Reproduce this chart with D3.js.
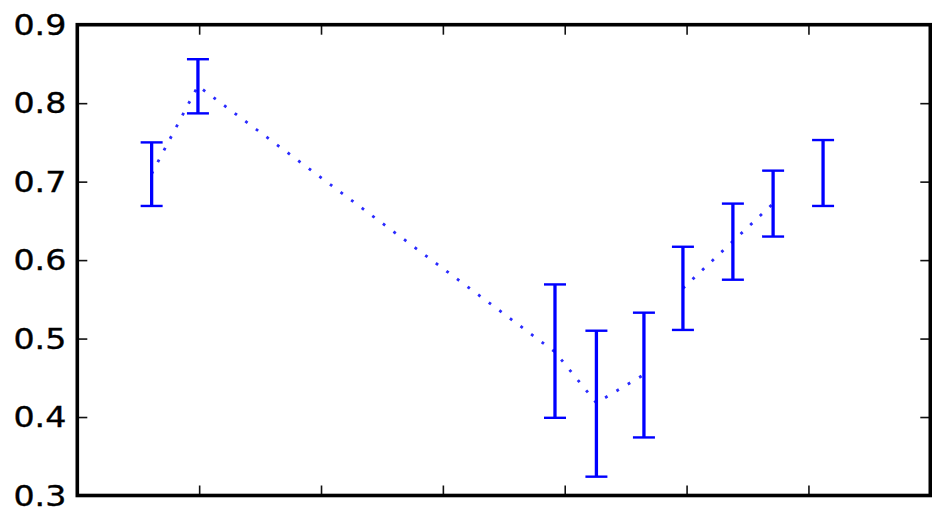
<!DOCTYPE html>
<html>
<head>
<meta charset="utf-8">
<script src="https://cdn.jsdelivr.net/npm/d3@7"></script>
<style>
  html, body { margin: 0; padding: 0; background: #fff; }
  svg { display: block; }
</style>
</head>
<body>
<div id="chart"></div>
<script>
// Measurement positions along the x axis
const xPos  = [0.61, 0.99, 3.92, 4.26, 4.65, 4.97, 5.38, 5.71, 6.12];
// Central estimate and interval bounds for each measurement
const means = [0.710, 0.822, 0.483, 0.418, 0.454, 0.564, 0.624, 0.672, 0.711];
const upper = [0.750, 0.856, 0.569, 0.510, 0.533, 0.617, 0.672, 0.714, 0.753];
const lower = [0.669, 0.787, 0.399, 0.324, 0.374, 0.511, 0.575, 0.630, 0.669];
// Points sharing a run id are joined by the dotted trend line
const runId = [0, 0, 0, 0, 0, 1, 1, 1, 2];
// Axis ticks
const yTicks = [0.3, 0.4, 0.5, 0.6, 0.7, 0.8, 0.9];
const xTicks = [1, 2, 3, 4, 5, 6];

const W = 932, H = 510;
const plotL = 77.3, plotR = 930.3, plotT = 24.7, plotB = 495.5;

const x = d3.scaleLinear().domain([0, 7]).range([plotL, plotR]);
const y = d3.scaleLinear().domain([0.3, 0.9]).range([plotB, plotT]);

const svg = d3.select("#chart").append("svg")
  .attr("width", W).attr("height", H);

const data = xPos.map((v, i) => ({ x: v, m: means[i], hi: upper[i], lo: lower[i], run: runId[i] }));

// Dotted line through the central estimates, broken between runs
const line = d3.line().x(d => x(d.x)).y(d => y(d.m));
const runs = d3.groups(data, d => d.run).map(g => g[1]).filter(g => g.length > 1);
svg.append("g").selectAll("path").data(runs).join("path")
  .attr("d", line)
  .attr("fill", "none")
  .attr("stroke", "#2a2aff")
  .attr("stroke-width", 2.8)
  .attr("stroke-dasharray", "2.8 10.4");

// Error bars with caps
const eb = svg.append("g").attr("stroke", "#0000ff");
eb.selectAll("line.stem").data(data).join("line")
  .attr("class", "stem")
  .attr("x1", d => x(d.x)).attr("x2", d => x(d.x))
  .attr("y1", d => y(d.hi)).attr("y2", d => y(d.lo))
  .attr("stroke-width", 3.3);
const capHalf = 11;
["hi", "lo"].forEach(k => {
  eb.selectAll("line.cap-" + k).data(data).join("line")
    .attr("class", "cap-" + k)
    .attr("x1", d => x(d.x) - capHalf).attr("x2", d => x(d.x) + capHalf)
    .attr("y1", d => y(d[k])).attr("y2", d => y(d[k]))
    .attr("stroke-width", 2.4);
});

// Inward ticks on all four sides
const tickLen = 10;
function styleAxis(g) {
  g.select(".domain").remove();
  g.selectAll(".tick line").attr("stroke", "#111").attr("stroke-width", 1.6);
}
svg.append("g").attr("transform", `translate(${plotL},0)`)
  .call(d3.axisLeft(y).tickValues(yTicks).tickSize(-tickLen).tickPadding(11).tickFormat(d3.format(".1f")))
  .call(styleAxis)
  .call(g => g.selectAll(".tick text")
    .attr("fill", "#000")
    .attr("stroke", "#000")
    .attr("stroke-width", 0.35)
    .attr("font-family", "DejaVu Sans, sans-serif")
    .attr("font-size", 27.5)
    .attr("dy", "0.35em")
    .attr("transform", function () {
      const tx = +this.getAttribute("x");
      return `translate(${tx},0) scale(1.21,1) translate(${-tx},0)`;
    }));
svg.append("g").attr("transform", `translate(${plotR},0)`)
  .call(d3.axisRight(y).tickValues(yTicks).tickSize(-tickLen).tickFormat(""))
  .call(styleAxis);
svg.append("g").attr("transform", `translate(0,${plotB})`)
  .call(d3.axisBottom(x).tickValues(xTicks).tickSize(-tickLen).tickFormat(""))
  .call(styleAxis);
svg.append("g").attr("transform", `translate(0,${plotT})`)
  .call(d3.axisTop(x).tickValues(xTicks).tickSize(-tickLen).tickFormat(""))
  .call(styleAxis);

// Frame
svg.append("rect")
  .attr("x", plotL).attr("y", plotT)
  .attr("width", plotR - plotL).attr("height", plotB - plotT)
  .attr("fill", "none")
  .attr("stroke", "#000")
  .attr("stroke-width", 3.6);
</script>
</body>
</html>
